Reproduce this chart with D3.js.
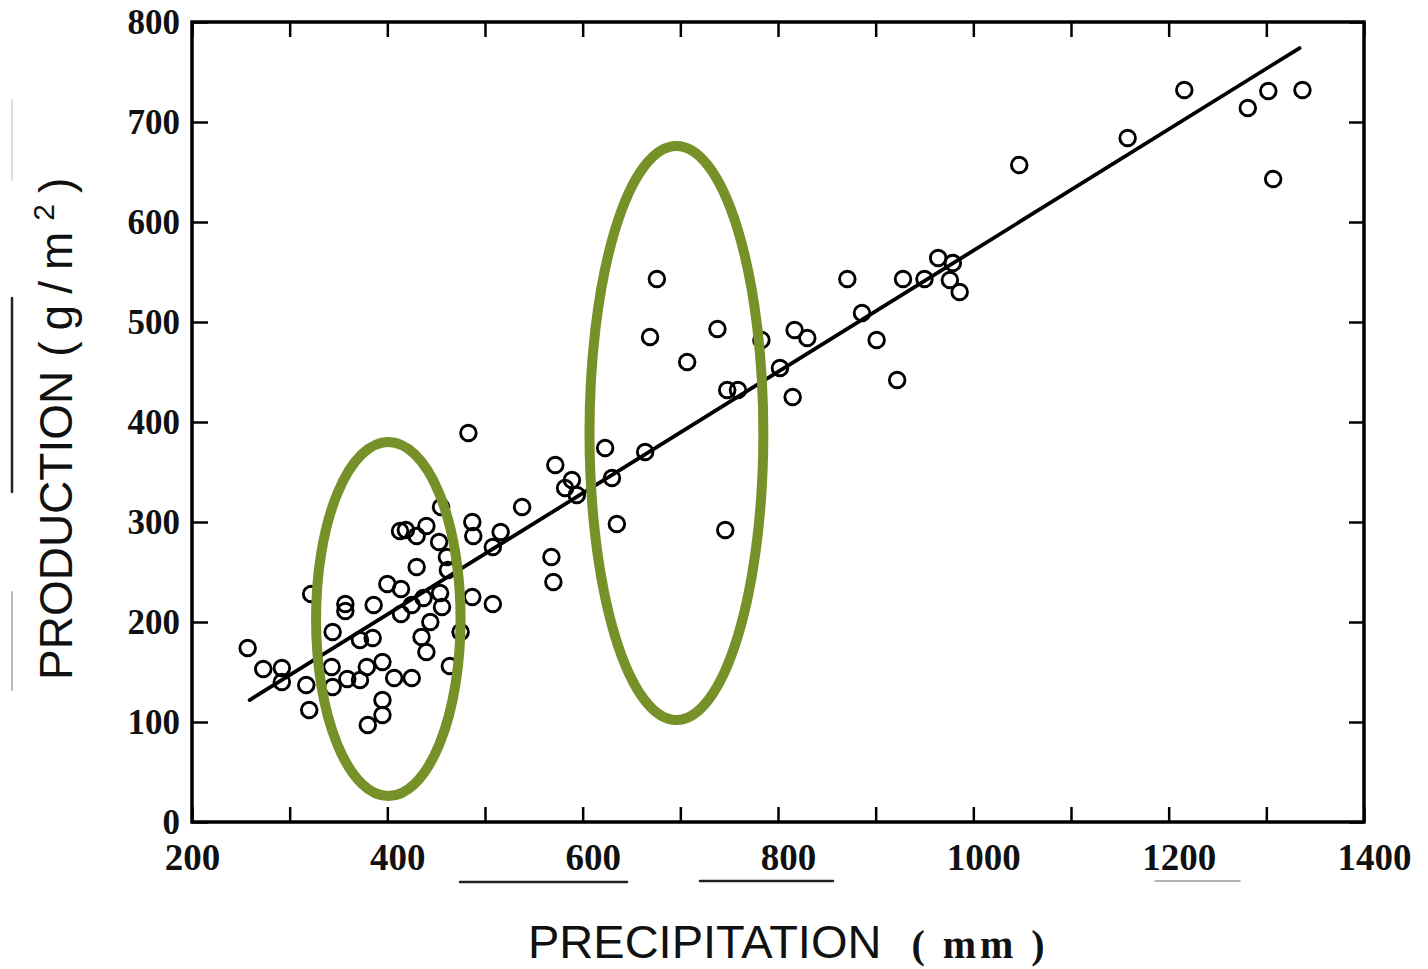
<!DOCTYPE html>
<html>
<head>
<meta charset="utf-8">
<script src="https://cdn.jsdelivr.net/npm/d3@7"></script>
<style>
  body { margin: 0; background: #fff; }
  .axis line { stroke: #000; stroke-width: 2.5; }
  .axis text { font-family: "Liberation Serif", serif; font-weight: bold; fill: #111; }
</style>
</head>
<body>
<div id="chart"></div>
<script>
// precipitation (mm) and production (g/m2), one entry per site
var precipitation = [
  257,273,292,292,317,320,322,344,343,344,
  357,357,372,385,359,372,379,395,386,400,
  414,414,425,407,425,395,395,380,430,413,
  419,430,440,453,461,462,455,437,454,456,
  444,435,440,464,475,487,488,508,516,487,
  508,483,538,568,570,572,582,589,594,623,
  630,635,664,676,669,707,738,748,759,746,
  783,802,815,817,830,871,886,901,922,928,
  950,964,979,976,986,1047,1158,1216,1281,1302,
  1337,1307];
var production = [
  174,153,154,140,137,112,228,190,155,135,
  218,211,182,184,143,142,155,160,217,238,
  233,208,217,144,144,122,107,97,255,291,
  292,286,296,280,265,252,315,224,229,215,
  200,185,170,156,190,300,286,275,290,225,
  218,389,315,265,240,357,334,342,327,374,
  344,298,370,543,485,460,493,432,432,292,
  482,454,425,492,484,543,509,482,442,543,
  543,564,559,542,530,657,684,732,714,731,
  732,643];

// regression line: production = slope * precipitation + intercept
var fitSlope = 0.6065;
var fitIntercept = -35.1;
var fitRange = [259, 1334];

var xTicks = [200,300,400,500,600,700,800,900,1000,1100,1200,1300,1400];
var yTicks = [0,100,200,300,400,500,600,700,800];

// highlighted groups (centre and half widths, in data units)
var groupCx = [401, 696];
var groupCy = [203, 389];
var groupRx = [74, 89];
var groupRy = [177, 287];

var w = 1428, h = 969;
var svg = d3.select("#chart").append("svg")
  .attr("width", w)
  .attr("height", h);

var x = d3.scaleLinear().domain([200, 1400]).range([192, 1364]);
var y = d3.scaleLinear().domain([0, 800]).range([822, 22]);

// scan leftovers of the original figure
var smudge = svg.append("g").attr("stroke-linecap", "round");
smudge.append("line").attr("x1", 12).attr("x2", 12).attr("y1", 298).attr("y2", 492)
  .attr("stroke", "#222").attr("stroke-width", 2.5);
smudge.append("line").attr("x1", 12).attr("x2", 12).attr("y1", 592).attr("y2", 690)
  .attr("stroke", "#bbb").attr("stroke-width", 2);
smudge.append("line").attr("x1", 12).attr("x2", 12).attr("y1", 100).attr("y2", 180)
  .attr("stroke", "#ddd").attr("stroke-width", 2);
smudge.append("line").attr("x1", 460).attr("x2", 627).attr("y1", 882).attr("y2", 882)
  .attr("stroke", "#222").attr("stroke-width", 2.5);
smudge.append("line").attr("x1", 700).attr("x2", 833).attr("y1", 881).attr("y2", 881)
  .attr("stroke", "#222").attr("stroke-width", 2.5);
smudge.append("line").attr("x1", 1155).attr("x2", 1240).attr("y1", 881).attr("y2", 881)
  .attr("stroke", "#999").attr("stroke-width", 1.5);

// axes, ticks pointing into the frame
svg.append("g")
  .attr("class", "axis")
  .attr("transform", "translate(0," + y(0) + ")")
  .call(d3.axisBottom(x).tickValues(xTicks).tickSizeInner(-15).tickSizeOuter(0).tickPadding(22)
    .tickFormat(function(d){ return d % 200 === 0 ? d : ""; }))
  .call(function(g){ g.select(".domain").remove(); })
  .selectAll("text").attr("font-size", 37).attr("dx", function(d){ return d === 200 ? 0 : 10; });

svg.append("g")
  .attr("class", "axis")
  .attr("transform", "translate(" + x(200) + ",0)")
  .call(d3.axisLeft(y).tickValues(yTicks).tickSizeInner(-16).tickSizeOuter(0).tickPadding(12))
  .call(function(g){ g.select(".domain").remove(); })
  .selectAll("text").attr("font-size", 35);

svg.append("g")
  .attr("class", "axis")
  .attr("transform", "translate(0," + y(800) + ")")
  .call(d3.axisTop(x).tickValues(xTicks).tickSizeInner(-15).tickSizeOuter(0).tickFormat(""))
  .call(function(g){ g.select(".domain").remove(); });

svg.append("g")
  .attr("class", "axis")
  .attr("transform", "translate(" + x(1400) + ",0)")
  .call(d3.axisRight(y).tickValues(yTicks).tickSizeInner(-15).tickSizeOuter(0).tickFormat(""))
  .call(function(g){ g.select(".domain").remove(); });

// frame
svg.append("rect")
  .attr("x", x(200)).attr("y", y(800))
  .attr("width", x(1400) - x(200)).attr("height", y(0) - y(800))
  .attr("fill", "none").attr("stroke", "#000").attr("stroke-width", 3.5);

// fitted line
svg.append("line")
  .attr("x1", x(fitRange[0])).attr("y1", y(fitSlope * fitRange[0] + fitIntercept))
  .attr("x2", x(fitRange[1])).attr("y2", y(fitSlope * fitRange[1] + fitIntercept))
  .attr("stroke", "#000").attr("stroke-width", 3.8).attr("stroke-linecap", "round");

// points
svg.append("g").selectAll("circle")
  .data(precipitation)
  .enter().append("circle")
  .attr("cx", function(d){ return x(d); })
  .attr("cy", function(d, i){ return y(production[i]); })
  .attr("r", 7.8)
  .attr("fill", "none")
  .attr("stroke", "#000")
  .attr("stroke-width", 2.9);

// green ellipses
svg.append("g").selectAll("ellipse")
  .data(groupCx)
  .enter().append("ellipse")
  .attr("cx", function(d){ return x(d); })
  .attr("cy", function(d, i){ return y(groupCy[i]); })
  .attr("rx", function(d, i){ return x(200 + groupRx[i]) - x(200); })
  .attr("ry", function(d, i){ return y(0) - y(groupRy[i]); })
  .attr("fill", "none")
  .attr("stroke", "#779129")
  .attr("stroke-width", 10);

// axis titles
var xt = svg.append("text")
  .attr("x", 528).attr("y", 958)
  .attr("fill", "#111");
xt.append("tspan").attr("font-family", "Liberation Sans, Arial, sans-serif").attr("font-size", 47)
  .text("PRECIPITATION");
xt.append("tspan").attr("dx", 30).attr("font-family", "Liberation Serif, serif").attr("font-weight", "bold")
  .attr("font-size", 40).attr("letter-spacing", 4).text("( mm )");

var yt = svg.append("text")
  .attr("transform", "translate(72,680) rotate(-90)")
  .attr("font-family", "Liberation Sans, Arial, sans-serif")
  .attr("font-size", 46)
  .attr("fill", "#111");
yt.append("tspan").text("PRODUCTION");
yt.append("tspan").attr("dx", 14).attr("letter-spacing", 11).text("(g/m");
yt.append("tspan").attr("font-size", 30).attr("dy", -18).attr("letter-spacing", 11).text("2");
yt.append("tspan").attr("dy", 18).text(")");
</script>
</body>
</html>
